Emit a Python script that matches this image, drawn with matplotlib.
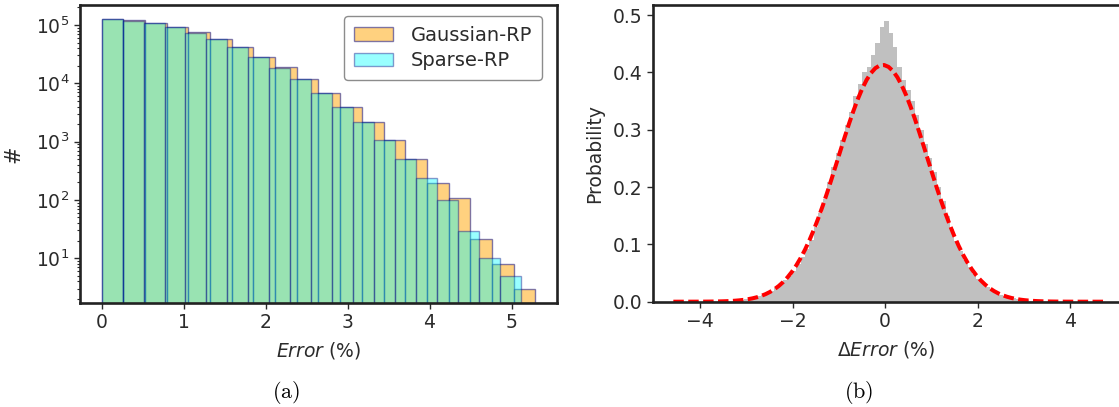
import numpy as np
import matplotlib
matplotlib.use('Agg')
import matplotlib.pyplot as plt

# (a) error histograms, 20 bins each
GAUSS_MAX = 5.29
SPARSE_MAX = 5.11
GAUSS_COUNTS = [127000, 120000, 107000, 91500, 74500, 57000, 41500, 28700, 18700, 11700,
                6750, 3950, 2200, 1070, 510, 193, 110, 21, 8, 3]
SPARSE_COUNTS = [125000, 118700, 106800, 91200, 73900, 56800, 41400, 28600, 18600, 11700,
                 6740, 3880, 2170, 1068, 511, 242, 100, 29, 10, 5]

# (b) delta error density histogram + gaussian fit
DELTA_LO, DELTA_HI, DELTA_NBINS = -4.58, 4.73, 98
DELTA_DENSITY = [0.00002, 0.00003, 0.00005, 0.0001, 0.0001, 0.00015, 0.0002, 0.0003, 0.0004, 0.0005,
                 0.0007, 0.0009, 0.0013, 0.0018, 0.0024,
                 0.0032, 0.0042, 0.0055, 0.0072, 0.0093, 0.012, 0.015, 0.019, 0.024, 0.030,
                 0.037, 0.045, 0.054, 0.065, 0.078, 0.092,
                 0.108, 0.13, 0.154, 0.18, 0.209, 0.235, 0.259, 0.282, 0.308, 0.331,
                 0.358, 0.38, 0.40, 0.41, 0.43, 0.452, 0.48,
                 0.49,
                 0.468, 0.445, 0.41, 0.387,
                 0.37, 0.35, 0.325, 0.30, 0.275, 0.25, 0.226, 0.20, 0.175, 0.15,
                 0.127, 0.106, 0.088, 0.073, 0.06, 0.049, 0.04, 0.032, 0.026, 0.02,
                 0.016, 0.012, 0.0095, 0.0073, 0.0056, 0.0043, 0.0033, 0.0025, 0.0019, 0.0014,
                 0.001, 0.0008, 0.0006, 0.0004, 0.0003, 0.0002,
                 0.00015, 0.0001, 0.0001, 0.00006, 0.00005, 0.00003, 0.00002, 0.00002, 0.00001]
FIT_MU = -0.05
FIT_SIGMA = 0.966

TEXT = '#2b2b2b'
plt.rcParams['font.family'] = ['DejaVu Sans']
plt.rcParams['text.color'] = TEXT
plt.rcParams['axes.labelcolor'] = TEXT
plt.rcParams['xtick.color'] = TEXT
plt.rcParams['ytick.color'] = TEXT
plt.rcParams['axes.edgecolor'] = '#222222'
plt.rcParams['axes.linewidth'] = 1.9

W, H = 1119, 407
fig = plt.figure(figsize=(W / 100, H / 100), dpi=100)


def box(l, t, r, b):
    return [l / W, 1 - b / H, (r - l) / W, (b - t) / H]


# ---- (a)
ax1 = fig.add_axes(box(80, 5, 557, 302.7))
g_edges = np.linspace(0, GAUSS_MAX, len(GAUSS_COUNTS) + 1)
s_edges = np.linspace(0, SPARSE_MAX, len(SPARSE_COUNTS) + 1)
ax1.bar(g_edges[:-1], GAUSS_COUNTS, width=np.diff(g_edges), align='edge',
        color='orange', alpha=0.5, edgecolor='navy', linewidth=1.0, label='Gaussian-RP')
ax1.bar(s_edges[:-1], SPARSE_COUNTS, width=np.diff(s_edges), align='edge',
        color='cyan', alpha=0.4, edgecolor='navy', linewidth=1.0, label='Sparse-RP')
ax1.set_yscale('log')
ax1.set_ylim(1.73, 2.2e5)
ax1.set_xlim(-0.2645, 5.555)
ax1.set_xticks([0, 1, 2, 3, 4, 5])
ax1.tick_params(labelsize=13.5, length=4, width=1)
ax1.tick_params(which='minor', length=2, width=0.8)
ax1.set_xlabel(r'$\mathit{Error}$ (%)', fontsize=13.5, labelpad=6)
ax1.set_ylabel('#', fontsize=15, labelpad=9)
leg = ax1.legend(loc='upper right', fontsize=14, fancybox=True, framealpha=1,
                 edgecolor='0.55', borderpad=0.5, labelspacing=0.35, handletextpad=0.9,
                 bbox_to_anchor=(0.988, 0.996))
leg.get_frame().set_linewidth(1.0)

# ---- (b)
ax2 = fig.add_axes(box(653, 5, 1119, 301.7))
d_edges = np.linspace(DELTA_LO, DELTA_HI, DELTA_NBINS + 1)
ax2.stairs(DELTA_DENSITY, d_edges, fill=True, color='silver')
fit = np.exp(-0.5 * ((d_edges - FIT_MU) / FIT_SIGMA) ** 2) / (FIT_SIGMA * np.sqrt(2 * np.pi))
ax2.plot(d_edges, fit, color='red', linestyle='--', linewidth=2.9, dashes=(2.6, 1.1))
ax2.set_xlim(-5.02, 5.06)
ax2.set_ylim(0, 0.5175)
ax2.set_xticks([-4, -2, 0, 2, 4])
ax2.set_yticks([0.0, 0.1, 0.2, 0.3, 0.4, 0.5])
ax2.spines['right'].set_visible(False)
ax2.tick_params(labelsize=13.5, length=4, width=1)
ax2.set_xlabel(r'$\Delta\mathit{Error}$ (%)', fontsize=13.5, labelpad=6)
ax2.set_ylabel('Probability', fontsize=13.5, labelpad=6)

# captions
fig.text(286 / W, 1 - 393 / H, r'$\mathrm{(a)}$', math_fontfamily='cm',
         fontsize=16, ha='center', va='center', color='black')
fig.text(859 / W, 1 - 393 / H, r'$\mathrm{(b)}$', math_fontfamily='cm',
         fontsize=16, ha='center', va='center', color='black')

fig.savefig('out.png', dpi=100)
